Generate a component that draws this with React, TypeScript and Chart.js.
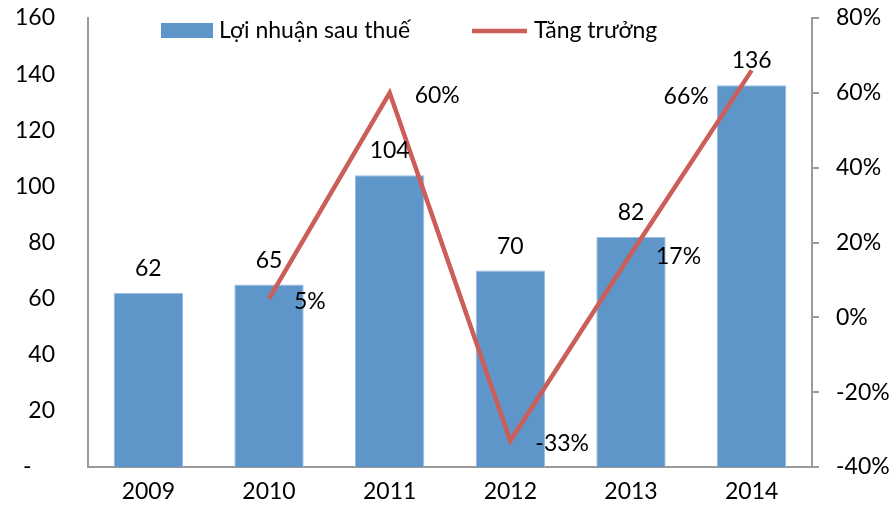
import { useEffect, useRef } from 'react';
import { Chart, registerables } from 'chart.js';

Chart.register(...registerables);

const years = ['2009', '2010', '2011', '2012', '2013', '2014'];
const profit = [62, 65, 104, 70, 82, 136];
const growth: (number | null)[] = [null, 5, 60, -33, 17, 66];
const growthLabelSide = ['right', 'right', 'right', 'right', 'right', 'leftBelow'];
const profitLegend = 'Lợi nhuận sau thuế';
const growthLegend = 'Tăng trưởng';

const FONT_FAMILY = 'Lato, "Open Sans", sans-serif';
const FONT_SIZE = 23;
const FONT = `${FONT_SIZE}px ${FONT_FAMILY}`;
const BAR_COLOR = '#5F96CA';
const LINE_COLOR = '#CB5E58';
const AXIS_COLOR = '#9A9A9A';

const labelsPlugin = {
  id: 'valueLabels',
  afterDatasetsDraw(chart: any) {
    const ctx = chart.ctx;
    ctx.save();
    ctx.font = FONT;
    ctx.fillStyle = '#000';
    const barMeta = chart.getDatasetMeta(0);
    barMeta.data.forEach((el: any, i: number) => {
      ctx.textAlign = 'center';
      ctx.textBaseline = 'alphabetic';
      ctx.fillText(String(profit[i]), el.x, el.y - 17);
    });
    const lineMeta = chart.getDatasetMeta(1);
    lineMeta.data.forEach((el: any, i: number) => {
      const v = growth[i];
      if (v === null || v === undefined) return;
      ctx.textBaseline = 'middle';
      const txt = `${v}%`;
      if (growthLabelSide[i] === 'leftBelow') {
        ctx.textAlign = 'right';
        ctx.fillText(txt, el.x - 43, el.y + 26);
      } else {
        ctx.textAlign = 'left';
        ctx.fillText(txt, el.x + 25, el.y + 3);
      }
    });
    ctx.restore();
  },
};

const legendPlugin = {
  id: 'customLegend',
  afterDraw(chart: any) {
    const ctx = chart.ctx;
    ctx.save();
    ctx.font = FONT;
    ctx.fillStyle = BAR_COLOR;
    ctx.fillRect(161, 23, 52, 15);
    ctx.fillStyle = '#000';
    ctx.textAlign = 'left';
    ctx.textBaseline = 'middle';
    ctx.fillText(profitLegend, 219, 31);
    ctx.strokeStyle = LINE_COLOR;
    ctx.lineWidth = 4.5;
    ctx.beginPath();
    ctx.moveTo(472, 31);
    ctx.lineTo(527, 31);
    ctx.stroke();
    ctx.fillText(growthLegend, 534, 31);
    ctx.restore();
  },
};

export default function App() {
  const ref = useRef<HTMLCanvasElement | null>(null);
  useEffect(() => {
    document.body.style.margin = '0';
    if (!ref.current) return;
    const chart = new Chart(ref.current, {
      type: 'bar',
      data: {
        labels: years,
        datasets: [
          {
            type: 'bar',
            label: profitLegend,
            data: profit,
            backgroundColor: BAR_COLOR,
            borderColor: '#9DBDE2',
            borderWidth: 1,
            barPercentage: 0.575,
            categoryPercentage: 1,
            yAxisID: 'y',
            order: 2,
          },
          {
            type: 'line',
            label: growthLegend,
            data: growth,
            borderColor: LINE_COLOR,
            backgroundColor: LINE_COLOR,
            borderWidth: 4.5,
            pointRadius: 0,
            tension: 0,
            spanGaps: false,
            yAxisID: 'y1',
            order: 1,
          } as any,
        ],
      },
      options: {
        responsive: false,
        animation: false,
        layout: { padding: { top: 18, left: 0, right: 0, bottom: 0 } },
        plugins: {
          legend: { display: false },
          tooltip: { enabled: false },
        },
        font: { family: FONT_FAMILY, size: FONT_SIZE },
        scales: {
          x: {
            grid: { display: false, drawTicks: false },
            border: { display: true, color: AXIS_COLOR, width: 2 },
            ticks: { color: '#000', font: { family: FONT_FAMILY, size: FONT_SIZE }, padding: 11 },
            afterFit: (axis: any) => { axis.height = 49; axis.paddingLeft = 0; axis.paddingRight = 0; },
          },
          y: {
            position: 'left',
            min: 0,
            max: 160,
            grid: { display: false, drawTicks: false },
            border: { display: true, color: AXIS_COLOR, width: 2 },
            ticks: {
              stepSize: 20,
              color: '#000',
              padding: 33,
              font: { family: FONT_FAMILY, size: FONT_SIZE },
              callback: (v: any) => (Number(v) === 0 ? '-    ' : String(v)),
            },
            afterFit: (axis: any) => { axis.width = 88; axis.paddingTop = 0; axis.paddingBottom = 0; },
          },
          y1: {
            position: 'right',
            min: -40,
            max: 80,
            grid: { display: true, drawOnChartArea: false, drawTicks: true, tickLength: 7, color: AXIS_COLOR, lineWidth: 2 },
            border: { display: true, color: AXIS_COLOR, width: 2 },
            ticks: {
              stepSize: 20,
              color: '#000',
              padding: 17,
              font: { family: FONT_FAMILY, size: FONT_SIZE },
              callback: (v: any) => `${v}%`,
            },
            afterFit: (axis: any) => { axis.width = 82; axis.paddingTop = 0; axis.paddingBottom = 0; },
          },
        },
      } as any,
      plugins: [labelsPlugin, legendPlugin],
    });
    return () => chart.destroy();
  }, []);
  return (
    <div style={{ width: 894, height: 516 }}>
      <canvas ref={ref} width={894} height={516} />
    </div>
  );
}
